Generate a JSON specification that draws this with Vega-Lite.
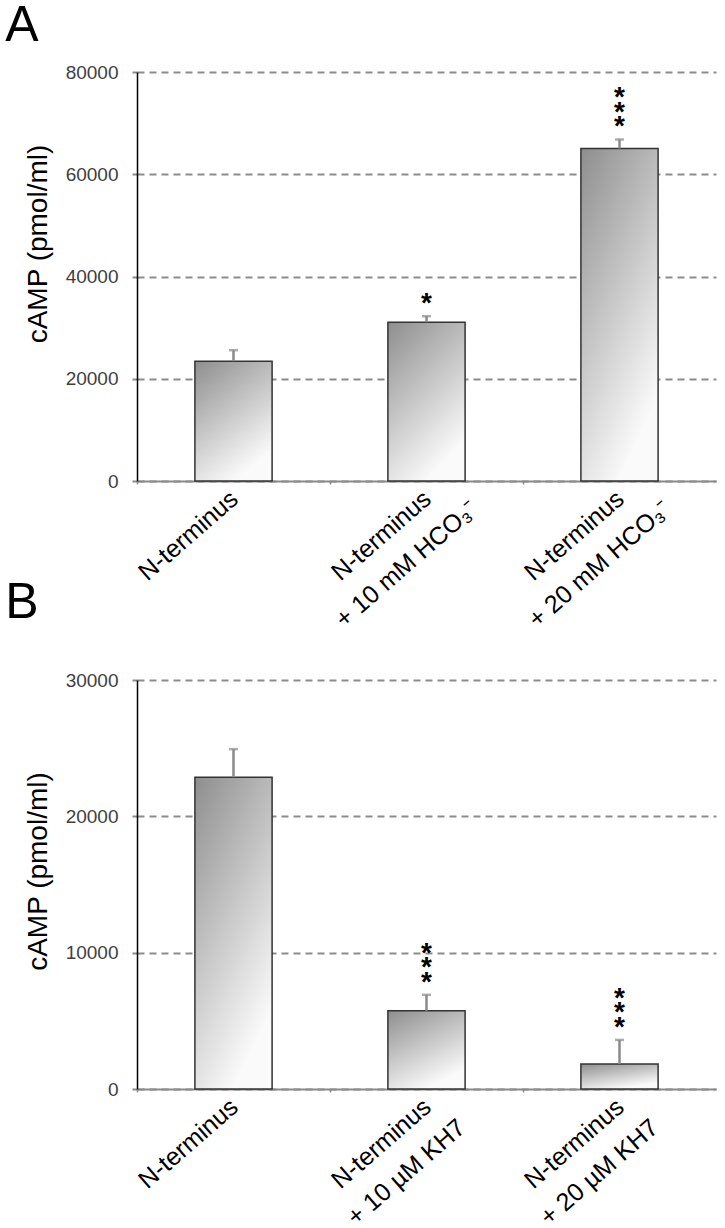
{
  "$schema": "https://vega.github.io/schema/vega-lite/v6.json",
  "padding": {"left": 5, "top": 1, "right": 5, "bottom": 5},
  "background": "white",
  "bounds": "flush",
  "spacing": 199,
  "config": {
    "view": {"stroke": null},
    "font": "Liberation Sans",
    "axis": {"labelFont": "Liberation Sans", "titleFont": "Liberation Sans"}
  },
  "vconcat": [
    {
      "width": 579,
      "height": 409,
      "title": {"text": "A", "anchor": "start", "frame": "bounds", "fontSize": 50, "fontWeight": "normal", "font": "Liberation Sans", "color": "black", "offset": 12, "dx": -19},
      "data": {"values": [
        {"group": "N-terminus", "value": 23440, "err": 25590, "stars": ""},
        {"group": "N-terminus|+ 10 mM HCO₃⁻", "value": 31050, "err": 32230, "stars": "*"},
        {"group": "N-terminus|+ 20 mM HCO₃⁻", "value": 65040, "err": 66800, "stars": "*\n*\n*"}
      ]},
      "encoding": {
        "x": {
          "field": "group", "type": "nominal", "sort": null,
          "scale": {"paddingInner": 0.6, "paddingOuter": 0.3},
          "axis": {
            "title": null,
            "labelExpr": "split(datum.label, '|')",
            "labelAngle": -41, "labelAlign": "center", "labelBaseline": "top",
            "labelFontSize": 25, "labelColor": "black", "labelLineHeight": 38,
            "labelPadding": 42, "labelOffset": -53,
            "labelOverlap": false, "labelBound": false, "labelFlush": false, "labelLimit": 0,
            "domainColor": "#8a8a8a", "domainWidth": 2,
            "tickColor": "#8a8a8a", "tickSize": 3, "tickWidth": 1.5,
            "bandPosition": -0.75
          }
        }
      },
      "layer": [
        {
          "mark": {"type": "bar", "fill": {"gradient": "linear", "x1": 0, "y1": 0, "x2": 0.5, "y2": 1, "stops": [{"offset": 0, "color": "#8e8e8e"}, {"offset": 1, "color": "#fafafa"}]}, "stroke": "#333333", "strokeWidth": 1.5},
          "encoding": {
            "y": {
              "field": "value", "type": "quantitative",
              "scale": {"domain": [0, 80000]},
              "axis": {
                "title": "cAMP (pmol/ml)", "titleFontSize": 28, "titleFontWeight": "normal", "titleColor": "black",
                "titlePadding": 13, "titleY": 171.5,
                "values": [0, 20000, 40000, 60000, 80000], "format": "d",
                "labelFontSize": 19, "labelColor": "#404040", "labelPadding": 14,
                "tickSize": 5, "tickColor": "#8a8a8a", "tickWidth": 2,
                "domainColor": "black", "domainWidth": 1.5,
                "grid": true, "gridColor": "#8c8c8c", "gridDash": [7, 5], "gridWidth": 2
              }
            }
          }
        },
        {
          "mark": {"type": "rule", "color": "#8a8a8a", "strokeWidth": 2.5},
          "encoding": {
            "y": {"field": "value", "type": "quantitative", "title": "cAMP (pmol/ml)"},
            "y2": {"field": "err"}
          }
        },
        {
          "mark": {"type": "tick", "color": "#8a8a8a", "thickness": 2.5, "size": 9},
          "encoding": {"y": {"field": "err", "type": "quantitative", "title": "cAMP (pmol/ml)"}}
        },
        {
          "mark": {"type": "text", "lineBreak": "\n", "baseline": "bottom", "align": "center", "fontSize": 28, "fontWeight": "bold", "lineHeight": -14.5, "dy": 2, "color": "black", "font": "Liberation Sans"},
          "encoding": {
            "y": {"field": "err", "type": "quantitative", "title": "cAMP (pmol/ml)"},
            "text": {"field": "stars"}
          }
        }
      ]
    },
    {
      "width": 579,
      "height": 409,
      "title": {"text": "B", "anchor": "start", "frame": "bounds", "fontSize": 50, "fontWeight": "normal", "font": "Liberation Sans", "color": "black", "offset": 43, "dx": -19},
      "data": {"values": [
        {"group": "N-terminus", "value": 22870, "err": 24930, "stars": ""},
        {"group": "N-terminus|+ 10 µM KH7", "value": 5735, "err": 6910, "stars": "*\n*\n*"},
        {"group": "N-terminus|+ 20 µM KH7", "value": 1840, "err": 3600, "stars": "*\n*\n*"}
      ]},
      "encoding": {
        "x": {
          "field": "group", "type": "nominal", "sort": null,
          "scale": {"paddingInner": 0.6, "paddingOuter": 0.3},
          "axis": {
            "title": null,
            "labelExpr": "split(datum.label, '|')",
            "labelAngle": -41, "labelAlign": "center", "labelBaseline": "top",
            "labelFontSize": 25, "labelColor": "black", "labelLineHeight": 38,
            "labelPadding": 42, "labelOffset": -53,
            "labelOverlap": false, "labelBound": false, "labelFlush": false, "labelLimit": 0,
            "domainColor": "#8a8a8a", "domainWidth": 2,
            "tickColor": "#8a8a8a", "tickSize": 3, "tickWidth": 1.5,
            "bandPosition": -0.75
          }
        }
      },
      "layer": [
        {
          "mark": {"type": "bar", "fill": {"gradient": "linear", "x1": 0, "y1": 0, "x2": 0.5, "y2": 1, "stops": [{"offset": 0, "color": "#8e8e8e"}, {"offset": 1, "color": "#fafafa"}]}, "stroke": "#333333", "strokeWidth": 1.5},
          "encoding": {
            "y": {
              "field": "value", "type": "quantitative",
              "scale": {"domain": [0, 30000]},
              "axis": {
                "title": "cAMP (pmol/ml)", "titleFontSize": 28, "titleFontWeight": "normal", "titleColor": "black",
                "titlePadding": 13, "titleY": 191,
                "values": [0, 10000, 20000, 30000], "format": "d",
                "labelFontSize": 19, "labelColor": "#404040", "labelPadding": 14,
                "tickSize": 5, "tickColor": "#8a8a8a", "tickWidth": 2,
                "domainColor": "black", "domainWidth": 1.5,
                "grid": true, "gridColor": "#8c8c8c", "gridDash": [7, 5], "gridWidth": 2
              }
            }
          }
        },
        {
          "mark": {"type": "rule", "color": "#8a8a8a", "strokeWidth": 2.5},
          "encoding": {
            "y": {"field": "value", "type": "quantitative", "title": "cAMP (pmol/ml)"},
            "y2": {"field": "err"}
          }
        },
        {
          "mark": {"type": "tick", "color": "#8a8a8a", "thickness": 2.5, "size": 9},
          "encoding": {"y": {"field": "err", "type": "quantitative", "title": "cAMP (pmol/ml)"}}
        },
        {
          "mark": {"type": "text", "lineBreak": "\n", "baseline": "bottom", "align": "center", "fontSize": 28, "fontWeight": "bold", "lineHeight": -14.5, "dy": 2, "color": "black", "font": "Liberation Sans"},
          "encoding": {
            "y": {"field": "err", "type": "quantitative", "title": "cAMP (pmol/ml)"},
            "text": {"field": "stars"}
          }
        }
      ]
    }
  ]
}
